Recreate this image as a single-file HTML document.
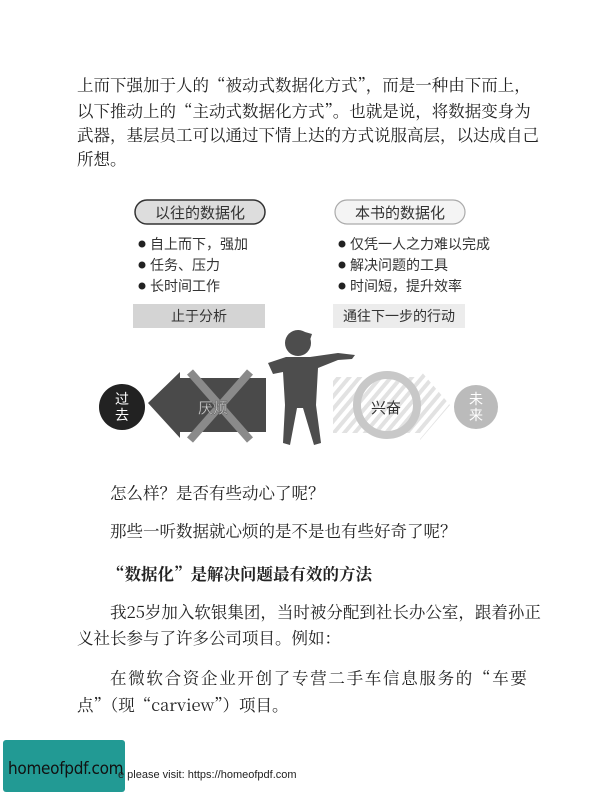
<!DOCTYPE html>
<html><head><meta charset="utf-8">
<style>
body{margin:0;width:612px;height:792px;background:#fff;position:relative;overflow:hidden;font-family:"Noto Serif CJK SC","Liberation Serif",serif;color:#222}
.t{position:absolute;font-size:16.5px;white-space:nowrap;line-height:20px}
.wm{position:absolute;left:3px;top:740px;width:122px;height:52px;background:#229a94;border-radius:3px}
</style></head><body>
<div class="t" style="left:77px;top:74px">上而下强加于人的“被动式数据化方式”，而是一种由下而上，</div>
<div class="t" style="left:77px;top:100px">以下推动上的“主动式数据化方式”。也就是说，将数据变身为</div>
<div class="t" style="left:77px;top:124px">武器，基层员工可以通过下情上达的方式说服高层，以达成自己</div>
<div class="t" style="left:77px;top:148px">所想。</div>

<svg style="position:absolute;left:0;top:0" width="612" height="470" font-family="Noto Sans CJK SC,sans-serif">
<defs><pattern id="h" width="8" height="8" patternUnits="userSpaceOnUse" patternTransform="rotate(40)"><rect width="8" height="8" fill="#e2e2e2"/><rect width="4" height="8" fill="#fff"/></pattern></defs>
<g><rect x="135" y="200" width="130" height="24" rx="12" fill="#ddd" stroke="#333" stroke-width="1.5"/><text x="200" y="218" font-size="15" text-anchor="middle" fill="#333">以往的数据化</text></g>
<g><rect x="335" y="200" width="130" height="24" rx="12" fill="#f4f4f4" stroke="#aaa" stroke-width="1.2"/><text x="400" y="218" font-size="15" text-anchor="middle" fill="#333">本书的数据化</text></g>
<g fill="#222"><circle cx="142" cy="244" r="3.5"/><circle cx="142" cy="265" r="3.5"/><circle cx="142" cy="286" r="3.5"/><circle cx="342" cy="244" r="3.5"/><circle cx="342" cy="265" r="3.5"/><circle cx="342" cy="286" r="3.5"/></g>
<g font-size="14" fill="#333">
<text x="150" y="249">自上而下，强加</text><text x="150" y="270">任务、压力</text><text x="150" y="291">长时间工作</text>
<text x="350" y="249">仅凭一人之力难以完成</text><text x="350" y="270">解决问题的工具</text><text x="350" y="291">时间短，提升效率</text>
</g>
<g><rect x="133" y="304" width="132" height="24" fill="#d4d4d4"/><text x="199" y="321" font-size="14" text-anchor="middle" fill="#333">止于分析</text></g>
<g><rect x="333" y="304" width="132" height="24" fill="#ececec"/><text x="399" y="321" font-size="14" text-anchor="middle" fill="#333">通往下一步的行动</text></g>
<g><circle cx="122" cy="407" r="23" fill="#222"/><text x="122" y="404" font-size="14" fill="#fff" text-anchor="middle">过</text><text x="122" y="420" font-size="14" fill="#fff" text-anchor="middle">去</text></g>
<g><polygon points="148,403 180,372 180,378 266,378 266,432 180,432 180,438" fill="#4a4a4a"/>
<line x1="190" y1="372" x2="250" y2="440" stroke="#8a8a8a" stroke-width="8"/><line x1="250" y1="372" x2="190" y2="440" stroke="#8a8a8a" stroke-width="8"/>
<text x="213" y="413" font-size="15" fill="#ddd" text-anchor="middle" stroke="#555" stroke-width="0.4">厌烦</text></g>
<g><polygon points="333,377 420,377 420,370 450,405 420,440 420,433 333,433" fill="url(#h)"/>
<circle cx="387" cy="405" r="30" fill="url(#h)" stroke="#c8c8c8" stroke-width="8"/><text x="386" y="413" font-size="15" fill="#333" text-anchor="middle">兴奋</text></g>
<g><circle cx="476" cy="407" r="22" fill="#bbb"/><text x="476" y="404" font-size="14" fill="#fff" text-anchor="middle">未</text><text x="476" y="420" font-size="14" fill="#fff" text-anchor="middle">来</text></g>
<g fill="#4d4d4d">
<circle cx="298" cy="343" r="13"/><path d="M298,330 l14,4 l-2,6 z"/>
<path d="M268,363 L286,357 L310,357 L338,353 L355,355 L352,359 L338,360 L318,368 L316,405 L321,443 L314,445 L303,408 L297,408 L290,445 L283,443 L285,405 L283,372 L273,374 Z"/>
</g>
</svg>

<div class="t" style="left:110px;top:482px">怎么样？是否有些动心了呢？</div>
<div class="t" style="left:110px;top:520px">那些一听数据就心烦的是不是也有些好奇了呢？</div>
<div class="t" style="left:108px;top:563px;font-weight:bold">“数据化”是解决问题最有效的方法</div>
<div class="t" style="left:110px;top:601px">我25岁加入软银集团，当时被分配到社长办公室，跟着孙正</div>
<div class="t" style="left:77px;top:627px">义社长参与了许多公司项目。例如：</div>
<div class="t" style="left:110px;top:667px;letter-spacing:1.7px">在微软合资企业开创了专营二手车信息服务的“车要</div>
<div class="t" style="left:77px;top:694px">点”（现“carview”）项目。</div>

<div class="wm"></div>
<div style="position:absolute;left:8px;top:759px;font:17px 'DejaVu Sans Condensed','Liberation Sans',sans-serif;color:#111;letter-spacing:-0.3px">homeofpdf.com</div>
<div style="position:absolute;left:118px;top:769px;font:11px 'Liberation Sans',sans-serif;color:#222">e please visit: https://homeofpdf.com</div>
</body></html>
